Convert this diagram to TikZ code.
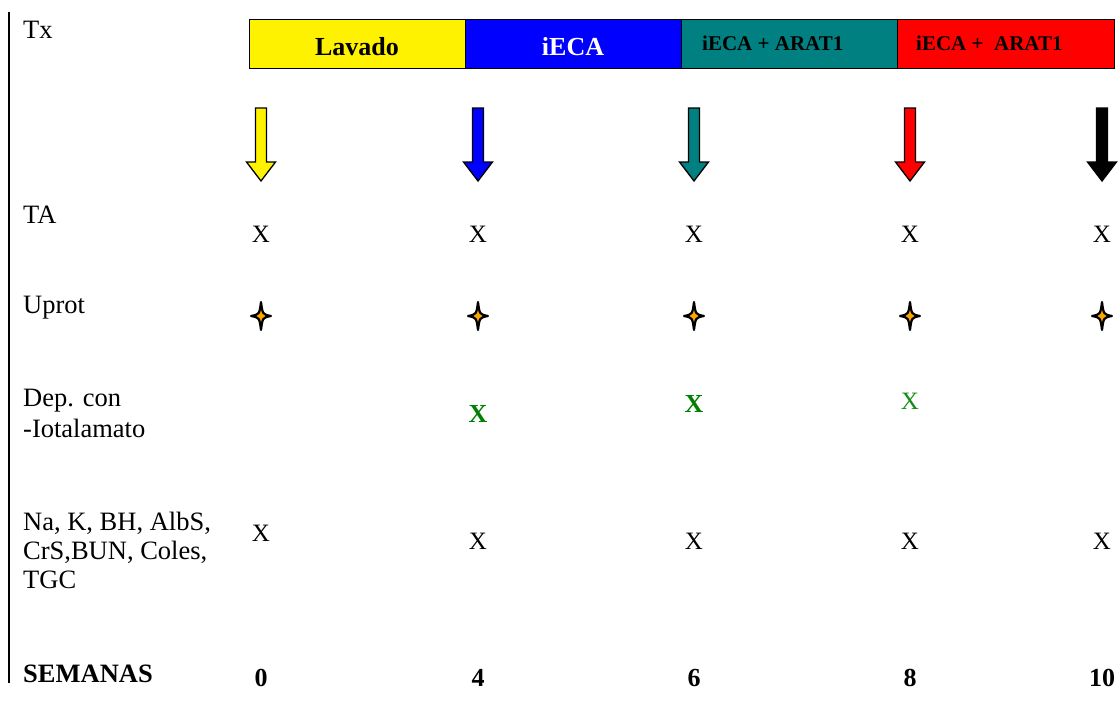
\documentclass[tikz,border=0pt]{standalone}
\usepackage{fontspec}
\setmainfont{Liberation Serif}
\definecolor{tealfill}{RGB}{0,128,128}
\definecolor{dgreen}{RGB}{0,128,0}
\definecolor{lgreen}{RGB}{20,140,20}
\definecolor{sparkfill}{RGB}{255,165,0}

\tikzset{
  lbl/.style={anchor=base west, inner sep=0, font=\fontsize{26.5}{30}\selectfont},
  boldlbl/.style={lbl, font=\fontsize{26.5}{30}\selectfont\bfseries},
  cross/.style={anchor=base, inner sep=0, font=\fontsize{25}{29}\selectfont},
  week/.style={anchor=base, inner sep=0, font=\fontsize{26}{29}\selectfont\bfseries},
  phase/.style={draw=black, line width=1.4, minimum width=216, minimum height=49, inner sep=0, anchor=north west},
  phasetxt/.style={inner sep=0, font=\fontsize{26}{29}\selectfont\bfseries},
  phasesmall/.style={inner sep=0, anchor=base west, font=\fontsize{21}{24}\selectfont\bfseries},
  pics/downarrow/.style={code={
    \draw[line width=1.3, line join=miter, fill=#1]
      (-5.5,0) -- (5.5,0) -- (5.5,54) -- (14.5,54) -- (0,73)
      -- (-14.5,54) -- (-5.5,54) -- cycle;}},
  pics/spark/.style={code={
    \draw[line width=2.2, line join=round, fill=sparkfill]
      (0,-14) .. controls (1.6,-1.6) .. (10,0)
      .. controls (1.6,1.6) .. (0,14)
      .. controls (-1.6,1.6) .. (-10,0)
      .. controls (-1.6,-1.6) .. (0,-14) -- cycle;}}
}

\begin{document}
\begin{tikzpicture}[x=1pt, y=-1pt]
\useasboundingbox (0,0) rectangle (1120,704);

% left rule
\coordinate (ruletop) at (9,12);
\coordinate (rulebot) at (9,683);
\draw[line width=1.3] (ruletop) -- (rulebot);

% treatment phases
\node[phase, fill=yellow] (p1) at (249,19) {};
\node[phase, fill=blue] (p2) at (465,19) {};
\node[phase, fill=tealfill] (p3) at (681,19) {};
\node[phase, fill=red, minimum width=217] (p4) at (897,19) {};
\node[phasetxt, anchor=base] (t1) at (357,55) {Lavado};
\node[phasetxt, anchor=base, text=white] (t2) at (573,55) {iECA};
\node[phasesmall] (t3) at (702,50) {iECA + ARAT1};
\node[phasesmall] (t4) at (916,50) {iECA +\ \ ARAT1};

% row labels
\node[lbl] (lTx) at (23,38) {Tx};
\node[lbl] (lTA) at (23,223) {TA};
\node[lbl] (lUp) at (23,313) {Uprot};
\node[lbl] (lDep1) at (23,406) {Dep. con};
\node[lbl] (lDep2) at (23,437) {-Iotalamato};
\node[lbl] (lNa1) at (23,530) {Na, K, BH, AlbS,};
\node[lbl] (lNa2) at (23,559) {CrS,BUN, Coles,};
\node[lbl] (lNa3) at (23,588) {TGC};
\node[boldlbl] (lSem) at (23,682) {SEMANAS};

% time points
\foreach \x/\c/\w/\ny [count=\i] in {261/yellow/0/541, 478/blue/4/549, 694/tealfill/6/549, 910/red/8/549, 1102/black/10/549}{
  \pic at (\x,108) {downarrow=\c};
  \node[cross] (ta\i) at (\x,242) {X};
  \pic at (\x,316) {spark};
  \node[cross] (na\i) at (\x,\ny) {X};
  \node[week] (wk\i) at (\x,686) {\w};
}

% clearance measurements
\node[cross, text=dgreen, font=\fontsize{26}{29}\selectfont\bfseries] (dep2) at (478,422) {X};
\node[cross, text=dgreen, font=\fontsize{26}{29}\selectfont\bfseries] (dep3) at (694,412) {X};
\node[cross, text=lgreen] (dep4) at (910,409) {X};
\end{tikzpicture}
\end{document}
